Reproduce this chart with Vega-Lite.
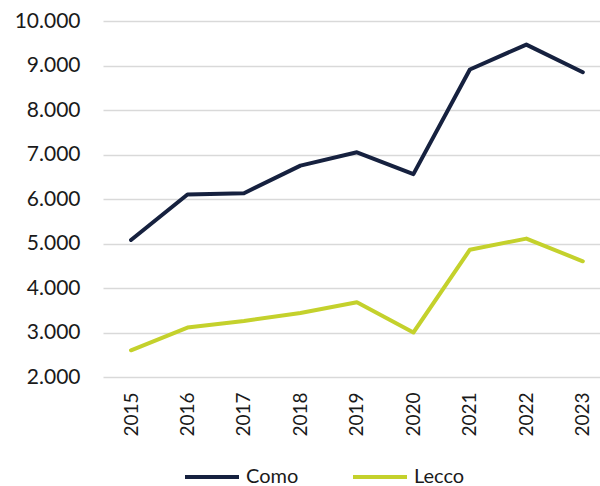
{
  "$schema": "https://vega.github.io/schema/vega-lite/v6.json",
  "autosize": "none",
  "width": 497,
  "height": 356,
  "padding": {"left": 103, "top": 21, "right": 0, "bottom": 109},
  "background": "white",
  "config": {
    "view": {"stroke": null},
    "font": "Lato"
  },
  "data": {
    "values": [
      {"year": "2015", "city": "Como", "value": 5080},
      {"year": "2016", "city": "Como", "value": 6100},
      {"year": "2017", "city": "Como", "value": 6130},
      {"year": "2018", "city": "Como", "value": 6750},
      {"year": "2019", "city": "Como", "value": 7050},
      {"year": "2020", "city": "Como", "value": 6560},
      {"year": "2021", "city": "Como", "value": 8910},
      {"year": "2022", "city": "Como", "value": 9470},
      {"year": "2023", "city": "Como", "value": 8850},
      {"year": "2015", "city": "Lecco", "value": 2600},
      {"year": "2016", "city": "Lecco", "value": 3110},
      {"year": "2017", "city": "Lecco", "value": 3260},
      {"year": "2018", "city": "Lecco", "value": 3440},
      {"year": "2019", "city": "Lecco", "value": 3680},
      {"year": "2020", "city": "Lecco", "value": 3000},
      {"year": "2021", "city": "Lecco", "value": 4860},
      {"year": "2022", "city": "Lecco", "value": 5110},
      {"year": "2023", "city": "Lecco", "value": 4600}
    ]
  },
  "mark": {"type": "line", "strokeWidth": 4, "strokeCap": "round", "strokeJoin": "round"},
  "encoding": {
    "x": {
      "field": "year",
      "type": "ordinal",
      "scale": {"type": "point", "padding": 0.4, "align": 0.62},
      "axis": {
        "title": null,
        "labelAngle": -90,
        "labelFontSize": 19,
        "labelColor": "#1a1a1a",
        "labelPadding": 15,
        "ticks": false,
        "domain": false,
        "grid": false
      }
    },
    "y": {
      "field": "value",
      "type": "quantitative",
      "scale": {"domain": [2000, 10000], "nice": false, "zero": false},
      "axis": {
        "title": null,
        "values": [2000, 3000, 4000, 5000, 6000, 7000, 8000, 9000, 10000],
        "labelExpr": "replace(format(datum.value, ',d'), ',', '.')",
        "labelFontSize": 21,
        "labelColor": "#1a1a1a",
        "labelPadding": 23,
        "ticks": false,
        "domain": false,
        "grid": true,
        "gridColor": "#d9d9d9",
        "gridWidth": 1.5
      }
    },
    "color": {
      "field": "city",
      "type": "nominal",
      "scale": {"domain": ["Como", "Lecco"], "range": ["#16213f", "#c4d12c"]},
      "legend": {
        "title": null,
        "orient": "none",
        "legendX": 80,
        "legendY": 427,
        "padding": 0,
        "offset": 0,
        "direction": "horizontal",
        "symbolType": "stroke",
        "symbolSize": 2916,
        "symbolStrokeWidth": 4,
        "labelFontSize": 20,
        "labelColor": "#1a1a1a",
        "labelOffset": 5,
        "columnPadding": 46
      }
    }
  }
}
